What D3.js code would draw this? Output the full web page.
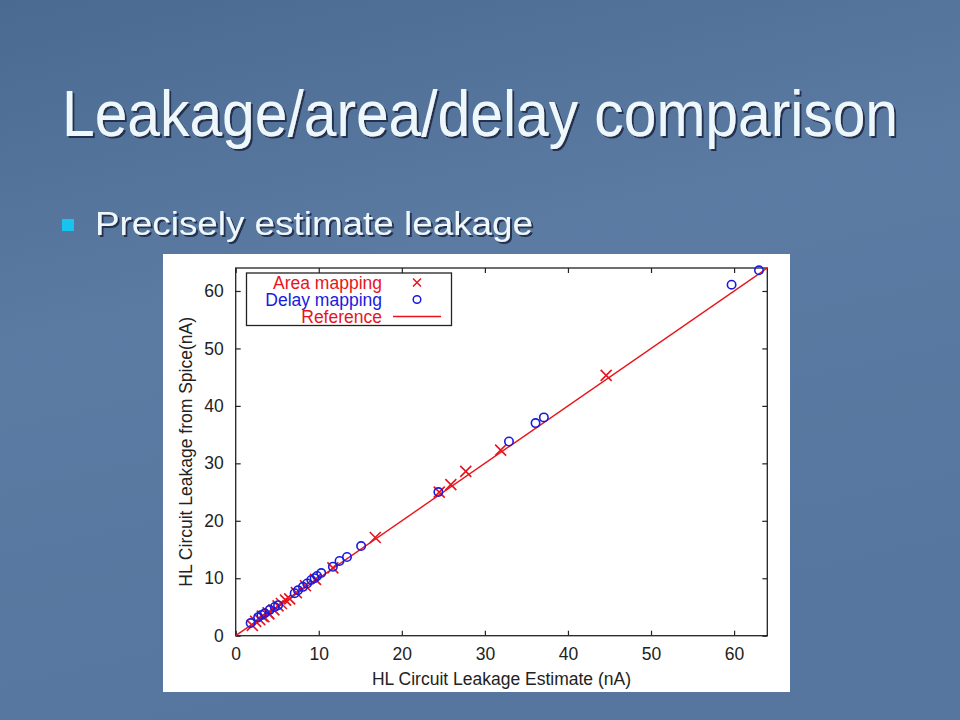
<!DOCTYPE html>
<html><head><meta charset="utf-8">
<script src="https://cdn.jsdelivr.net/npm/d3@7"></script>
<style>html,body{margin:0;padding:0;overflow:hidden;background:#56769e}</style>
</head><body>
<svg id="c" width="960" height="720"></svg>
<script>
const title = "Leakage/area/delay comparison";
const bulletText = "Precisely estimate leakage";
const xLabel = "HL Circuit Leakage Estimate (nA)";
const yLabel = "HL Circuit Leakage from Spice(nA)";
const seriesNames = ["Area mapping", "Delay mapping", "Reference"];
const xTicks = [0, 10, 20, 30, 40, 50, 60];
const yTicks = [0, 10, 20, 30, 40, 50, 60];
const axisDomain = [0, 64];
// Area mapping: [estimate, spice]
const areaData = [[2.0,1.8],[2.4,2.5],[2.9,2.8],[3.2,3.4],[3.4,3.3],[3.9,4.0],[4.0,3.8],[4.6,4.5],[5.1,5.2],[5.5,5.6],[6.0,6.2],[6.5,6.4],[7.3,7.5],[8.4,8.7],[9.6,9.8],[11.7,11.8],[16.8,17.1],[24.5,25.0],[25.9,26.3],[27.7,28.6],[31.9,32.3],[44.6,45.3]];
// Delay mapping: [estimate, spice]
const delayData = [[1.8,2.2],[2.7,3.2],[3.1,3.6],[3.5,3.9],[4.1,4.5],[4.7,5.0],[5.1,5.3],[7.1,7.4],[7.5,7.9],[8.1,8.5],[8.6,9.1],[9.1,9.7],[9.5,10.0],[9.8,10.4],[10.3,10.9],[11.7,12.0],[12.5,13.0],[13.4,13.7],[15.1,15.6],[24.4,25.0],[32.9,33.8],[36.1,37.0],[37.1,38.0],[59.7,61.1],[63.0,63.6]];
const referenceLine = [[0,0],[64,64]];

const svg = d3.select("#c");
const defs = svg.append("defs");
const g = defs.append("linearGradient").attr("id","bg").attr("x1",0).attr("y1",0).attr("x2",0.3).attr("y2",1);
g.append("stop").attr("offset","0%").attr("stop-color","#4a6a91");
g.append("stop").attr("offset","45%").attr("stop-color","#5b7ba3");
g.append("stop").attr("offset","100%").attr("stop-color","#56769f");
const f = defs.append("filter").attr("id","sh").attr("x","-5%").attr("y","-20%").attr("width","110%").attr("height","140%");
f.append("feDropShadow").attr("dx",2).attr("dy",2).attr("stdDeviation",0.6).attr("flood-color","#1c2c44").attr("flood-opacity",0.9);

svg.append("rect").attr("width",960).attr("height",720).attr("fill","url(#bg)");

svg.append("text").text(title).attr("x",62).attr("y",136)
  .attr("font-family","Liberation Sans, Arial, sans-serif").attr("font-size",64)
  .attr("textLength",836).attr("lengthAdjust","spacingAndGlyphs")
  .attr("fill","#eef8fc").attr("filter","url(#sh)");

svg.append("rect").attr("x",62).attr("y",219).attr("width",12).attr("height",12).attr("fill","#17c4f0");
svg.append("text").text(bulletText).attr("x",95).attr("y",235)
  .attr("font-family","Liberation Sans, Arial, sans-serif").attr("font-size",34)
  .attr("textLength",438).attr("lengthAdjust","spacingAndGlyphs")
  .attr("fill","#eef8fc").attr("filter","url(#sh)");

// white chart panel
svg.append("rect").attr("x",163).attr("y",254).attr("width",627).attr("height",438).attr("fill","#ffffff");

const L = 235.7, R = 767.3, T = 268, B = 635.7;
const x = d3.scaleLinear().domain(axisDomain).range([L, R]);
const y = d3.scaleLinear().domain(axisDomain).range([B, T]);
const font = "Liberation Sans, Arial, sans-serif";
const ink = "#222";
const fs = 17.5;

const chart = svg.append("g");

function styleAxis(sel, showLabels){
  sel.select(".domain").remove();
  sel.selectAll(".tick line").attr("stroke", ink).attr("stroke-width",1.2);
  sel.selectAll(".tick text").attr("font-family",font).attr("font-size",fs).attr("fill",ink);
  if(!showLabels) sel.selectAll(".tick text").remove();
}
chart.append("g").attr("transform",`translate(0,${B})`)
  .call(d3.axisBottom(x).tickValues(xTicks).tickSizeInner(-5).tickSizeOuter(0).tickPadding(12))
  .call(s=>styleAxis(s,true));
chart.append("g").attr("transform",`translate(0,${T})`)
  .call(d3.axisTop(x).tickValues(xTicks).tickSizeInner(-5).tickSizeOuter(0))
  .call(s=>styleAxis(s,false));
chart.append("g").attr("transform",`translate(${L},0)`)
  .call(d3.axisLeft(y).tickValues(yTicks).tickSizeInner(-5).tickSizeOuter(0).tickPadding(12))
  .call(s=>styleAxis(s,true));
chart.append("g").attr("transform",`translate(${R},0)`)
  .call(d3.axisRight(y).tickValues(yTicks).tickSizeInner(-5).tickSizeOuter(0))
  .call(s=>styleAxis(s,false));

chart.append("rect").attr("x",L).attr("y",T).attr("width",R-L).attr("height",B-T)
  .attr("fill","none").attr("stroke",ink).attr("stroke-width",1.3);

const red = "#e8141c", blue = "#1a1ae0";
const line = d3.line().x(d=>x(d[0])).y(d=>y(d[1]));
chart.append("path").datum(referenceLine).attr("d",line).attr("stroke",red).attr("stroke-width",1.4).attr("fill","none");

const cross = "M-5.5,-5.5L5.5,5.5M-5.5,5.5L5.5,-5.5";
chart.append("g").selectAll("path").data(areaData).join("path")
  .attr("transform",d=>`translate(${x(d[0])},${y(d[1])})`).attr("d",cross)
  .attr("stroke",red).attr("stroke-width",1.6).attr("fill","none");
chart.append("g").selectAll("circle").data(delayData).join("circle")
  .attr("cx",d=>x(d[0])).attr("cy",d=>y(d[1])).attr("r",4.2)
  .attr("stroke",blue).attr("stroke-width",1.6).attr("fill","none");

// legend
const lg = chart.append("g");
lg.append("rect").attr("x",246.5).attr("y",273).attr("width",205).attr("height",52.5)
  .attr("fill","#fff").attr("stroke",ink).attr("stroke-width",1.3);
const rowsY = [282.5, 299.5, 316.5];
const colors = [red, blue, red];
lg.selectAll("text").data(seriesNames).join("text")
  .attr("x",382).attr("y",(d,i)=>rowsY[i]).attr("dy","0.35em").attr("text-anchor","end")
  .attr("font-family",font).attr("font-size",fs).attr("fill",(d,i)=>colors[i]).text(d=>d);
lg.append("path").attr("transform",`translate(417,${rowsY[0]})`).attr("d","M-4,-4L4,4M-4,4L4,-4").attr("stroke",red).attr("stroke-width",1.5);
lg.append("circle").attr("cx",417).attr("cy",rowsY[1]).attr("r",3.8).attr("stroke",blue).attr("stroke-width",1.5).attr("fill","none");
lg.append("line").attr("x1",393).attr("x2",441).attr("y1",rowsY[2]).attr("y2",rowsY[2]).attr("stroke",red).attr("stroke-width",1.4);

// axis titles
chart.append("text").text(xLabel).attr("x",(L+R)/2).attr("y",685).attr("text-anchor","middle")
  .attr("font-family",font).attr("font-size",fs).attr("fill",ink);
chart.append("text").text(yLabel).attr("transform",`translate(192,${(T+B)/2}) rotate(-90)`).attr("text-anchor","middle")
  .attr("font-family",font).attr("font-size",fs).attr("fill",ink);
</script>
</body></html>
